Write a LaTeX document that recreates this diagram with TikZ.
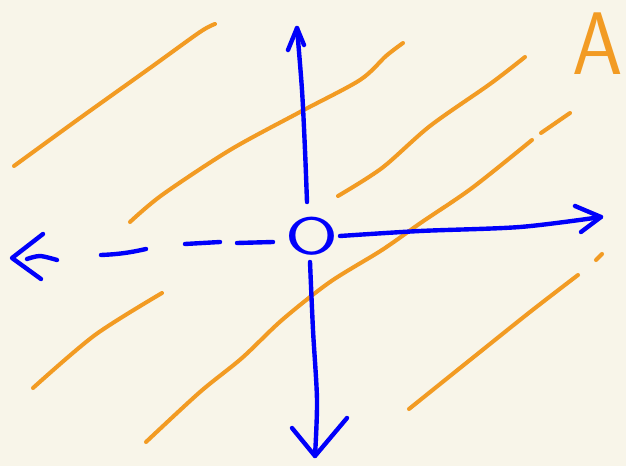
\documentclass[tikz,border=0pt]{standalone}
\usepackage{tikz}
\usetikzlibrary{arrows.meta,calc}
\definecolor{paper}{RGB}{248,245,233}
\definecolor{pen}{RGB}{242,155,35}
\definecolor{ink}{RGB}{0,0,250}
\tikzset{plane/.style={pen,line width=2.3pt,line cap=round,line join=round}}
\tikzset{axis/.style={ink,line width=2.5pt,line cap=round,line join=round}}
\begin{document}
\begin{tikzpicture}[x=0.02cm,y=-0.02cm]
\fill[paper](0,0)rectangle(626,466);\useasboundingbox(0,0)rectangle(626,466);
% family of parallel lines
\draw[plane]plot[smooth]coordinates{(14,166)(80,118)(150,68)(200,32)(215,24)};
\draw[plane]plot[smooth]coordinates{(130,222)(162,195)(230,150)(300,112)(360,80)(386,56)(403,43)};
\draw[plane]plot[smooth]coordinates{(338,196)(382,168)(430,126)(490,84)(525,57)};
\draw[plane]plot[smooth]coordinates{(146,442)(200,392)(242,358)(282,320)(330,282)(382,250)(422,222)(472,188)(532,140)};
\draw[plane](541,133)--(570,113);
\draw[plane]plot[smooth]coordinates{(33,388)(95,335)(162,293)};
\draw[plane]plot[smooth]coordinates{(409,409)(470,360)(530,312)(578,275)};
\draw[plane](596,260)--(602,254);
\node(A)[pen,font=\fontsize{46}{46}\selectfont\sffamily,yscale=1.1]at(598,44){A};
% axes
\node(O)[ink,inner sep=0pt,xscale=1.45,font=\fontsize{30}{30}\selectfont\sffamily]at(312,236){O};
\coordinate(up)at(297,28);\coordinate(right)at(601,217);
\coordinate(down)at(315,456);\coordinate(left)at(12,258);
\draw[axis]plot[smooth]coordinates{(307,202)(305,150)(302,90)(297,28)};
\draw[axis]($(up)+(-9,22)$)--(up)--($(up)+(7,17)$);
\draw[axis]plot[smooth]coordinates{(340,236)(420,231)(520,227)(601,217)};
\draw[axis]($(right)+(-26,-11)$)--(right)--($(right)+(-20,15)$);
\draw[axis]plot[smooth]coordinates{(310,262)(313,330)(317,400)(315,456)};
\draw[axis]($(down)+(-23,-28)$)--(down)--($(down)+(32,-38)$);
% dashed negative axis
\draw[axis](273,242)--(237,243);\draw[axis](220,242)--(185,244);
\draw[axis](146,249)to[bend left=5](101,255);
\draw[axis]($(left)+(31,-24)$)--(left)--($(left)+(29,21)$);
\draw[axis]plot[smooth]coordinates{(27,259)(40,256)(57,260)};
\end{tikzpicture}
\end{document}
